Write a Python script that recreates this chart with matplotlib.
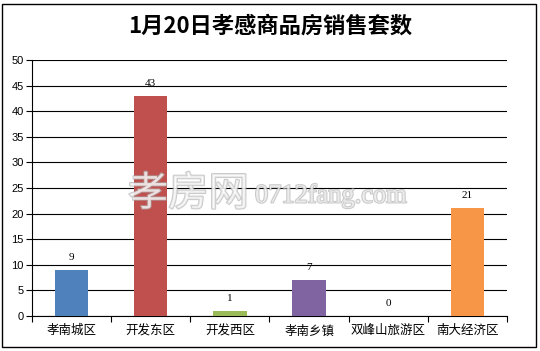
import matplotlib
matplotlib.use("Agg")
import matplotlib.pyplot as plt
import matplotlib.patheffects as pe
from matplotlib.patches import Rectangle

plt.rcParams['font.family'] = ['Noto Sans CJK SC', 'DejaVu Sans']

categories = ["孝南城区", "开发东区", "开发西区", "孝南乡镇", "双峰山旅游区", "南大经济区"]
values = [9, 43, 1, 7, 0, 21]
colors = ["#4F81BD", "#C0504D", "#9BBB59", "#8064A2", "#4BACC6", "#F79646"]
yticks = [0, 5, 10, 15, 20, 25, 30, 35, 40, 45, 50]
title = "1月20日孝感商品房销售套数"

W, H = 540, 351
fig = plt.figure(figsize=(W/100, H/100), dpi=100)
fig.patches.append(Rectangle((2/W, 4/H), 534/W, 343/H, transform=fig.transFigure,
                             fill=False, edgecolor="black", linewidth=1.0))

ax = fig.add_axes([32/W, 1 - 316/H, 475/W, 256/H])
x = list(range(len(categories)))
ax.bar(x, values, width=0.42, color=colors, zorder=3)
ax.set_xlim(-0.5, len(categories) - 0.5)
ax.set_ylim(0, 50)
ax.set_yticks(yticks)
ax.set_yticklabels([str(v) for v in yticks], fontsize=8, family=['Liberation Sans', 'DejaVu Sans'])
ax.yaxis.grid(True, color="black", linewidth=0.8, zorder=0)
ax.set_axisbelow(True)
ax.set_xticks([i - 0.5 for i in range(len(categories) + 1)], minor=False)
ax.set_xticklabels([])
ax.set_xticks(x, minor=True)
ax.set_xticklabels(categories, minor=True, fontsize=9)
ax.tick_params(axis='x', which='minor', length=0, pad=6)
ax.tick_params(axis='x', which='major', length=4, width=0.8, direction='out')
ax.tick_params(axis='y', length=4, width=0.8, direction='out', pad=2)
for s in ["top", "right"]:
    ax.spines[s].set_visible(False)
ax.spines["left"].set_linewidth(0.8)
ax.spines["bottom"].set_linewidth(0.8)

for xi, v in zip(x, values):
    ax.annotate(str(v), (xi, v), xytext=(0, 6), textcoords="offset points",
                ha="center", va="bottom", fontsize=8, family=['Liberation Serif', 'DejaVu Serif'])

fig.text(0.5, 1 - 26/H, title, ha="center", va="center", fontsize=16, fontweight="bold")

fig.text(128/W, 1 - 194/H, "孝房网", ha="left", va="center", fontsize=29,
         color="white", alpha=0.6,
         path_effects=[pe.withStroke(linewidth=1.5, foreground="#a8a8a8")])
fig.text(255/W, 1 - 196/H, "0712fang.com", ha="left", va="center", fontsize=19,
         color="white", alpha=0.6, family=['Liberation Serif', 'DejaVu Serif'],
         path_effects=[pe.withStroke(linewidth=1.5, foreground="#a8a8a8")])

fig.savefig("out.png", dpi=100)
